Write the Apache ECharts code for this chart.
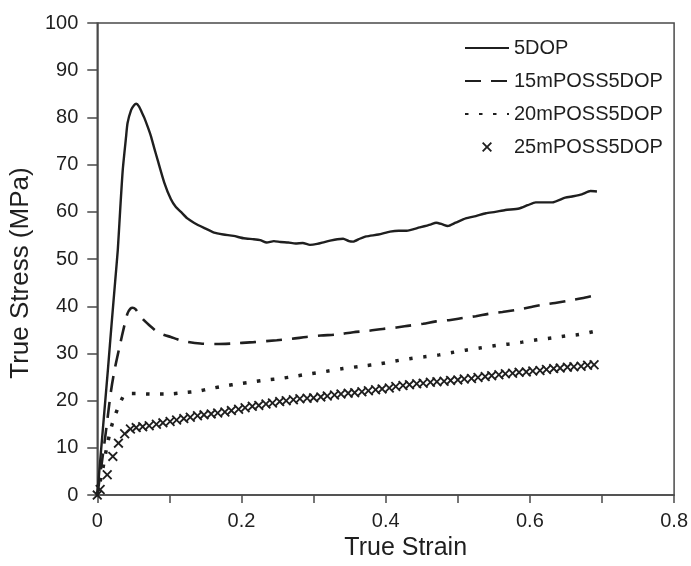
<!DOCTYPE html>
<html>
<head>
<meta charset="utf-8">
<script src="https://cdn.jsdelivr.net/npm/echarts@6/dist/echarts.min.js"></script>
<style>html,body{margin:0;padding:0;background:#fff}#c{width:691px;height:566px}</style>
</head>
<body>
<div id="c"></div>
<script>
const seriesNames = ['5DOP', '15mPOSS5DOP', '20mPOSS5DOP', '25mPOSS5DOP'];
const xTicks = [0, 0.2, 0.4, 0.6, 0.8];

const strainA = [0,0.005,0.01,0.015,0.02,0.025,0.0285,0.032,0.0354,0.04,0.042,0.047,0.051,0.054,0.058,0.062,0.065,0.07,0.0745,0.079,0.0837,0.0929,0.102,0.109,0.116,0.125,0.134,0.148,0.162,0.175,0.189,0.203,0.217,0.226,0.235,0.245,0.254,0.265,0.275,0.285,0.295,0.305,0.315,0.323,0.333,0.341,0.349,0.355,0.364,0.373,0.39,0.406,0.418,0.429,0.447,0.462,0.47,0.478,0.486,0.497,0.511,0.525,0.539,0.552,0.566,0.585,0.597,0.608,0.62,0.631,0.649,0.66,0.672,0.684,0.693];
const stressA = [0,9,18,27,36.5,45.6,52,61,69,76,78.8,81.6,82.6,82.9,82.3,81,80,78,76,73.5,71,66.2,62.7,61,60,58.6,57.7,56.6,55.6,55.2,54.9,54.4,54.2,54.0,53.5,53.8,53.6,53.5,53.3,53.4,53.0,53.2,53.6,53.9,54.2,54.3,53.8,53.7,54.3,54.8,55.2,55.8,56.0,56.0,56.7,57.3,57.7,57.4,57.0,57.7,58.6,59.1,59.7,60.0,60.4,60.7,61.4,62.0,62.0,62.0,63.0,63.3,63.7,64.4,64.3];

const strainB = [0,0.006,0.012,0.019,0.024,0.031,0.0377,0.042,0.046,0.049,0.053,0.058,0.065,0.075,0.084,0.093,0.102,0.111,0.12,0.143,0.165,0.185,0.217,0.249,0.27,0.29,0.31,0.332,0.355,0.376,0.396,0.415,0.433,0.452,0.47,0.49,0.507,0.525,0.543,0.562,0.58,0.6,0.617,0.635,0.654,0.672,0.69];
const stressB = [0,6.5,13.5,22,26.5,31.5,36,38.5,39.5,39.7,39.4,38.3,37,35.6,34.5,33.9,33.5,33,32.6,32.1,32.0,32.1,32.4,32.8,33.1,33.5,33.8,34.0,34.5,34.8,35.2,35.5,35.9,36.3,36.8,37.1,37.5,37.9,38.4,38.8,39.2,39.8,40.3,40.7,41.2,41.7,42.3];

const strainC = [0,0.007,0.013,0.018,0.0216,0.0285,0.034,0.0377,0.045,0.056,0.0745,0.0975,0.12,0.139,0.158,0.176,0.197,0.217,0.235,0.254,0.275,0.295,0.317,0.341,0.366,0.392,0.413,0.433,0.454,0.474,0.492,0.511,0.532,0.553,0.571,0.589,0.61,0.631,0.65,0.668,0.69];
const stressC = [0,5,10,13.5,15.5,18.4,20.3,21.2,21.5,21.5,21.4,21.4,21.7,22.0,22.6,23.1,23.6,24.0,24.4,24.7,25.2,25.7,26.2,26.8,27.3,27.8,28.4,28.9,29.3,29.7,30.2,30.7,31.2,31.7,32.0,32.4,32.9,33.3,33.7,34.0,34.7];

const strainD = [0,0.004,0.0138,0.0216,0.0294,0.038,0.046,0.054,0.063,0.072,0.082,0.091,0.101,0.110,0.120,0.129,0.139,0.148,0.158,0.167,0.177,0.186,0.196,0.205,0.215,0.224,0.234,0.243,0.253,0.262,0.272,0.281,0.291,0.300,0.310,0.319,0.329,0.338,0.348,0.357,0.367,0.376,0.386,0.395,0.405,0.414,0.424,0.433,0.443,0.452,0.462,0.471,0.481,0.490,0.500,0.509,0.519,0.528,0.538,0.547,0.557,0.566,0.576,0.585,0.595,0.604,0.614,0.623,0.633,0.642,0.652,0.661,0.671,0.680,0.689];
const stressD = [0,1.2,4.3,8.2,11.0,13.0,14.0,14.3,14.5,14.7,15.0,15.3,15.6,15.9,16.2,16.5,16.8,17.0,17.2,17.4,17.6,17.9,18.2,18.5,18.8,19.0,19.3,19.5,19.8,20.0,20.2,20.4,20.5,20.6,20.8,21.0,21.2,21.4,21.6,21.7,21.9,22.1,22.3,22.5,22.7,23.0,23.2,23.4,23.6,23.7,23.9,24.0,24.1,24.3,24.4,24.6,24.7,24.9,25.1,25.3,25.5,25.7,25.8,26.0,26.1,26.3,26.4,26.6,26.8,26.9,27.1,27.2,27.3,27.5,27.6];

const zip = (xs, ys) => xs.map((x, i) => [x, ys[i]]);
const FONT = '"Liberation Sans", Arial, Helvetica, sans-serif';
const INK = '#1f1f1f';
const AXIS = '#4a4a4a';
const crossPath = 'path://M0,1.3 L1.3,0 L5,3.7 L8.7,0 L10,1.3 L6.3,5 L10,8.7 L8.7,10 L5,6.3 L1.3,10 L0,8.7 L3.7,5 Z';
const hideSym = {opacity: 0, color: 'transparent', borderWidth: 0};

const chart = echarts.init(document.getElementById('c'), null, {renderer: 'canvas'});
chart.setOption({
  animation: false,
  backgroundColor: '#fff',
  grid: {left: 96, right: 15, top: 23, bottom: 69, show: true, borderColor: AXIS, borderWidth: 1.5, containLabel: false},
  legend: {
    orient: 'vertical', left: 459, top: 33,
    itemWidth: 44, itemHeight: 10, itemGap: 13, itemTextGap: 9,
    textStyle: {fontFamily: FONT, fontSize: 20, color: INK, lineHeight: 20},
    data: [
      {name: seriesNames[0], itemStyle: hideSym},
      {name: seriesNames[1], itemStyle: hideSym},
      {name: seriesNames[2], itemStyle: hideSym},
      {name: seriesNames[3]}
    ]
  },
  xAxis: {
    type: 'value', min: 0, max: 0.8, interval: 0.1,
    name: 'True Strain', nameLocation: 'middle', nameGap: 38,
    nameTextStyle: {fontFamily: FONT, fontSize: 25, color: INK, padding: [0, 0, 0, 40]},
    axisLine: {show: true, onZero: false, lineStyle: {color: AXIS, width: 1.5}},
    axisTick: {show: true, inside: false, length: 8, lineStyle: {color: AXIS, width: 1.5}},
    axisLabel: {fontFamily: FONT, fontSize: 20, color: INK, margin: 16,
      formatter: v => { const r = Math.round(v * 10) / 10; return xTicks.some(t => Math.abs(t - r) < 1e-9) ? String(r) : ''; }},
    splitLine: {show: false}
  },
  yAxis: {
    type: 'value', min: 0, max: 100, interval: 10,
    name: 'True Stress (MPa)', nameLocation: 'middle', nameGap: 59,
    nameTextStyle: {fontFamily: FONT, fontSize: 26, color: INK, padding: [0, 28, 0, 0]},
    axisLine: {show: true, onZero: false, lineStyle: {color: AXIS, width: 1.5}},
    axisTick: {show: true, inside: false, length: 10, lineStyle: {color: AXIS, width: 1.5}},
    axisLabel: {fontFamily: FONT, fontSize: 20, color: INK, margin: 19},
    splitLine: {show: false}
  },
  series: [
    {name: seriesNames[0], type: 'line', data: zip(strainA, stressA), symbol: 'none', smooth: 0.2,
      lineStyle: {color: INK, width: 2.4}, itemStyle: {color: INK}},
    {name: seriesNames[1], type: 'line', data: zip(strainB, stressB), symbol: 'none', smooth: 0.3,
      lineStyle: {color: INK, width: 2.6, type: [16, 10]}, itemStyle: {color: INK}},
    {name: seriesNames[2], type: 'line', data: zip(strainC, stressC), symbol: 'none', smooth: 0.3,
      lineStyle: {color: INK, width: 3.5, type: [3.5, 10.5]}, itemStyle: {color: INK}},
    {name: seriesNames[3], type: 'scatter', data: zip(strainD, stressD), symbol: crossPath, symbolSize: 10,
      itemStyle: {color: INK, opacity: 1}}
  ]
});
</script>
</body>
</html>
